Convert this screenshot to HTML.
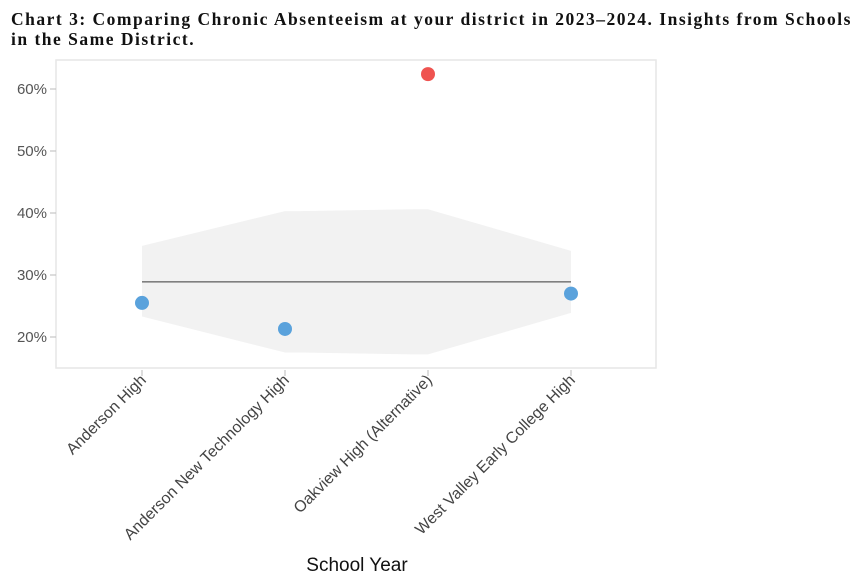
<!DOCTYPE html>
<html><head><meta charset="utf-8"><style>
body{margin:0;background:#fff;width:866px;height:582px;overflow:hidden}
.title{position:absolute;left:11px;top:9px;width:860px;font-family:"Liberation Serif",serif;font-weight:bold;font-size:17.5px;line-height:20px;color:#111;letter-spacing:1.5px;white-space:nowrap}
</style></head><body>
<div class="title">Chart 3: Comparing Chronic Absenteeism at your district in 2023–2024. Insights from Schools<br>in the Same District.</div>
<svg id="chart" width="866" height="582" style="position:absolute;left:0;top:0"></svg>
<script>
const categories=["Anderson High","Anderson New Technology High","Oakview High (Alternative)","West Valley Early College High"];
const values=[25.5,21.3,62.4,27.0];
const highlight=[false,false,true,false];
const bandUpper=[34.7,40.3,40.6,33.9];
const bandLower=[23.3,17.5,17.2,23.9];
const meanValue=28.9;
const yTicks=[20,30,40,50,60];
const NS="http://www.w3.org/2000/svg";
const svg=document.getElementById('chart');
const x0=56,x1=656,yTop=60,yBot=368;
const xs=i=>142+i*143;
const ys=v=>461-v*6.2;
function mk(t,a,p){const e=document.createElementNS(NS,t);for(const k in a)e.setAttribute(k,a[k]);(p||svg).appendChild(e);return e;}
const frame=mk('rect',{x:x0,y:yTop,width:x1-x0,height:yBot-yTop,fill:'none',stroke:'#e6e6e6','stroke-width':1.5});


const n=categories.length;
const off=[[0,0],[0,15],[-15,0],[0,0]];
let pts=[];
categories.forEach((c,i)=>{const o=off[Math.min(i,3)];pts.push([xs(i)+o[0],ys(bandUpper[i])]);pts.push([xs(i)+o[1],ys(bandUpper[i])]);});
for(let i=n-1;i>=0;i--){const o=off[Math.min(i,3)];pts.push([xs(i)+o[1],ys(bandLower[i])]);pts.push([xs(i)+o[0],ys(bandLower[i])]);}
const band=mk('polygon',{points:pts.map(p=>p.join(',')).join(' '),fill:'#f2f2f2'});


const ml=mk('line',{x1:xs(0),x2:xs(n-1),y1:ys(meanValue),y2:ys(meanValue),stroke:'#808080','stroke-width':1.6});


yTicks.forEach(t=>{
  const y=ys(t);
  const l=mk('line',{x1:x0-6,x2:x0,y1:y,y2:y,stroke:'#bbb'});
  
  
  const tx=mk('text',{x:x0-9,y:y+5,'text-anchor':'end','font-family':'Liberation Sans, sans-serif','font-size':15,fill:'#555'});
  tx.textContent=t+'%';
  
  
});
categories.forEach((c,i)=>{
  const x=xs(i);
  const l=mk('line',{x1:x,x2:x,y1:yBot+2,y2:yBot+8,stroke:'#bbb'});
  
  
  const tx=mk('text',{x:x+5,y:yBot+13,'text-anchor':'end','font-family':'Liberation Sans, sans-serif','font-size':15.9,fill:'#444',transform:`rotate(-45 ${x+5} ${yBot+13})`});
  tx.textContent=c;
  
  
  const d=mk('circle',{cx:x,cy:ys(values[i]),r:7,fill:highlight[i]?'#ef5350':'#5aa2dc'});
  
  
});
const xt=mk('text',{x:357,y:571,'text-anchor':'middle','font-family':'Liberation Sans, sans-serif','font-size':19,fill:'#111'});
xt.textContent='School Year';


</script>
</body></html>
